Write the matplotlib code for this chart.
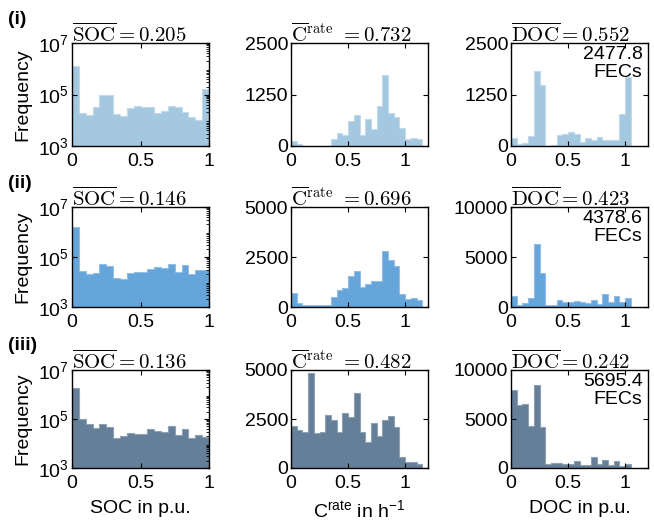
import numpy as np
import matplotlib
matplotlib.use("Agg")
import matplotlib.pyplot as plt
from matplotlib.ticker import FixedLocator, LogLocator, NullFormatter

plt.rcParams['font.family'] = ['Liberation Sans', 'DejaVu Sans']
plt.rcParams['mathtext.fontset'] = 'custom'
plt.rcParams['mathtext.rm'] = 'Liberation Sans'
plt.rcParams['mathtext.it'] = 'Liberation Sans:italic'
plt.rcParams['mathtext.bf'] = 'Liberation Sans:bold'

# ---------------- data ----------------
bin_w = 0.05
row_labels = ['(i)', '(ii)', '(iii)']
soc_mean = ['0.205', '0.146', '0.136']
crate_mean = ['0.732', '0.696', '0.482']
doc_mean = ['0.552', '0.423', '0.242']
fec_values = ['2477.8', '4378.6', '5695.4']

soc_i = [1.3e6, 1.95e4, 1.6e4, 3.2e4, 9.8e4, 9.8e4, 1.7e4, 1.45e4, 3.0e4, 3.5e4,
         3.2e4, 3.2e4, 1.95e4, 2.2e4, 3.5e4, 3.2e4, 2.0e4, 1.35e4, 1.0e4, 1.6e5]
soc_ii = [1.55e6, 2.7e4, 2.1e4, 2.3e4, 5.1e4, 4.4e4, 1.45e4, 1.3e4, 2.3e4, 2.4e4,
          2.45e4, 3.4e4, 4.1e4, 3.5e4, 5.1e4, 2.5e4, 4.7e4, 2.1e4, 3.0e4, 3.0e4]
soc_iii = [1.9e6, 9.8e4, 6.2e4, 4.2e4, 6.3e4, 4.9e4, 1.65e4, 2.1e4, 2.6e4, 2.4e4,
           2.4e4, 4.0e4, 3.3e4, 2.9e4, 5.2e4, 2.3e4, 4.0e4, 1.6e4, 2.2e4, 1.8e4]

crate_i = [131, 41, 3, 3, 3, 3, 3, 172, 310, 261, 613, 760, 261, 654, 408, 972,
           1716, 801, 703, 433, 172, 188, 163]
crate_ii = [717, 200, 83, 83, 117, 117, 117, 483, 867, 950, 1550, 1817, 983, 1133,
            1283, 1283, 2817, 2333, 2033, 633, 417, 433, 333]
crate_iii = [2157, 1961, 1814, 4837, 1797, 1846, 2729, 2435, 1846, 2827, 2582, 3807,
             1846, 1324, 2288, 1634, 2467, 2631, 2075, 539, 310, 294, 229]

doc_i = [187, 49, 65, 244, 1832, 1482, 0, 33, 260, 285, 334, 285, 106, 195, 155,
         220, 147, 138, 138, 780, 1670]
doc_ii = [1067, 233, 400, 933, 6300, 3367, 233, 233, 700, 533, 500, 567, 467, 400,
          700, 333, 1333, 467, 1067, 467, 933]
doc_iii = [7974, 6405, 6503, 4281, 8431, 4183, 359, 490, 556, 425, 425, 752, 327,
           327, 1111, 359, 850, 261, 686, 196, 359]

soc_data = [soc_i, soc_ii, soc_iii]
crate_data = [crate_i, crate_ii, crate_iii]
doc_data = [doc_i, doc_ii, doc_iii]

crate_yticks = [[0, 1250, 2500], [0, 2500, 5000], [0, 2500, 5000]]
doc_yticks = [[0, 1250, 2500], [0, 5000, 10000], [0, 5000, 10000]]

face_colors = ['#A5C8E1', '#66A5DA', '#647F97']
edge_colors = ['#C3DAEB', '#93BFE6', '#8DA2B5']

# ---------------- layout ----------------
W, H = 654, 521
fig = plt.figure(figsize=(W / 100, H / 100), dpi=100)

col_lr = [(72, 209), (291, 428), (511, 648)]
row_tb = [(43, 146), (207, 307), (370, 468)]

FS = 14
TFS = 15


def make_ax(r, c):
    l, rr = col_lr[c]
    t, b = row_tb[r]
    ax = fig.add_axes([l / W, 1 - b / H, (rr - l) / W, (b - t) / H])
    for s in ax.spines.values():
        s.set_linewidth(1.0)
        s.set_color('black')
        s.set_zorder(5)
    ax.tick_params(direction='in', top=True, right=True, length=3.5, width=0.8,
                   labelsize=FS)
    ax.tick_params(axis='x', pad=5)
    ax.tick_params(axis='y', pad=2)
    ax.tick_params(which='minor', direction='in', top=False, left=False, right=True,
                   length=2, width=0.6)
    return ax


def draw_hist(ax, vals, r, bottom=0):
    vals = np.asarray(vals, dtype=float)
    edges = np.arange(len(vals) + 1) * bin_w
    ax.bar(edges[:-1], vals - bottom, width=bin_w, bottom=bottom, align='edge',
           color=face_colors[r], edgecolor='none', linewidth=0)
    ax.stairs(vals, edges, baseline=bottom, color=edge_colors[r], linewidth=0.8)


for r in range(3):
    # SOC (log)
    ax = make_ax(r, 0)
    ax.set_yscale('log')
    draw_hist(ax, soc_data[r], r, bottom=1e3)
    ax.set_ylim(1e3, 1e7)
    ax.set_xlim(0, 1)
    ax.yaxis.set_major_locator(FixedLocator([1e3, 1e5, 1e7]))
    ax.set_yticklabels([r'$10^3$', r'$10^5$', r'$10^7$'])
    ax.yaxis.set_minor_locator(LogLocator(base=10, subs=np.arange(2, 10), numticks=20))
    ax.yaxis.set_minor_formatter(NullFormatter())
    ax.set_xticks([0, 0.5, 1])
    ax.set_xticklabels(['0', '0.5', '1'])
    ax.set_ylabel('Frequency', fontsize=FS)
    ax.yaxis.set_label_coords(-41 / 137, 0.5)
    ax.set_title(r'$\overline{\mathrm{SOC}} = ' + soc_mean[r] + '$', fontsize=TFS,
                 math_fontfamily='cm', pad=1, loc='left')
    if r == 2:
        ax.set_xlabel('SOC in p.u.', fontsize=FS, labelpad=6)

    # C-rate
    ax = make_ax(r, 1)
    draw_hist(ax, crate_data[r], r)
    ax.set_xlim(0, 1.2)
    ax.set_ylim(crate_yticks[r][0], crate_yticks[r][-1])
    ax.set_yticks(crate_yticks[r])
    ax.set_yticklabels([str(v) for v in crate_yticks[r]])
    ax.set_xticks([0, 0.5, 1])
    ax.set_xticklabels(['0', '0.5', '1'])
    ax.set_title(r'$\overline{\mathrm{C}}^{\mathrm{rate}}\ = ' + crate_mean[r] + '$',
                 fontsize=TFS, math_fontfamily='cm', pad=1, loc='left')
    if r == 2:
        ax.set_xlabel(r'C$^{\mathrm{rate}}$ in h$^{-1}$', fontsize=FS, labelpad=5)

    # DOC
    ax = make_ax(r, 2)
    draw_hist(ax, doc_data[r], r)
    ax.set_xlim(0, 1.2)
    ax.set_ylim(doc_yticks[r][0], doc_yticks[r][-1])
    ax.set_yticks(doc_yticks[r])
    ax.set_yticklabels([str(v) for v in doc_yticks[r]])
    ax.set_xticks([0, 0.5, 1])
    ax.set_xticklabels(['0', '0.5', '1'])
    ax.set_title(r'$\overline{\mathrm{DOC}} = ' + doc_mean[r] + '$', fontsize=TFS,
                 math_fontfamily='cm', pad=1, loc='left')
    ax.text(0.96, 0.97, fec_values[r] + '\nFECs', transform=ax.transAxes,
            ha='right', va='top', fontsize=FS, linespacing=1.1, zorder=6)
    if r == 2:
        ax.set_xlabel('DOC in p.u.', fontsize=FS, labelpad=6)

    # row label
    t, _ = row_tb[r]
    fig.text(8 / W, 1 - (t - 24) / H, row_labels[r], fontsize=FS, fontweight='bold',
             ha='left', va='center')

fig.savefig('out.png', dpi=100)
